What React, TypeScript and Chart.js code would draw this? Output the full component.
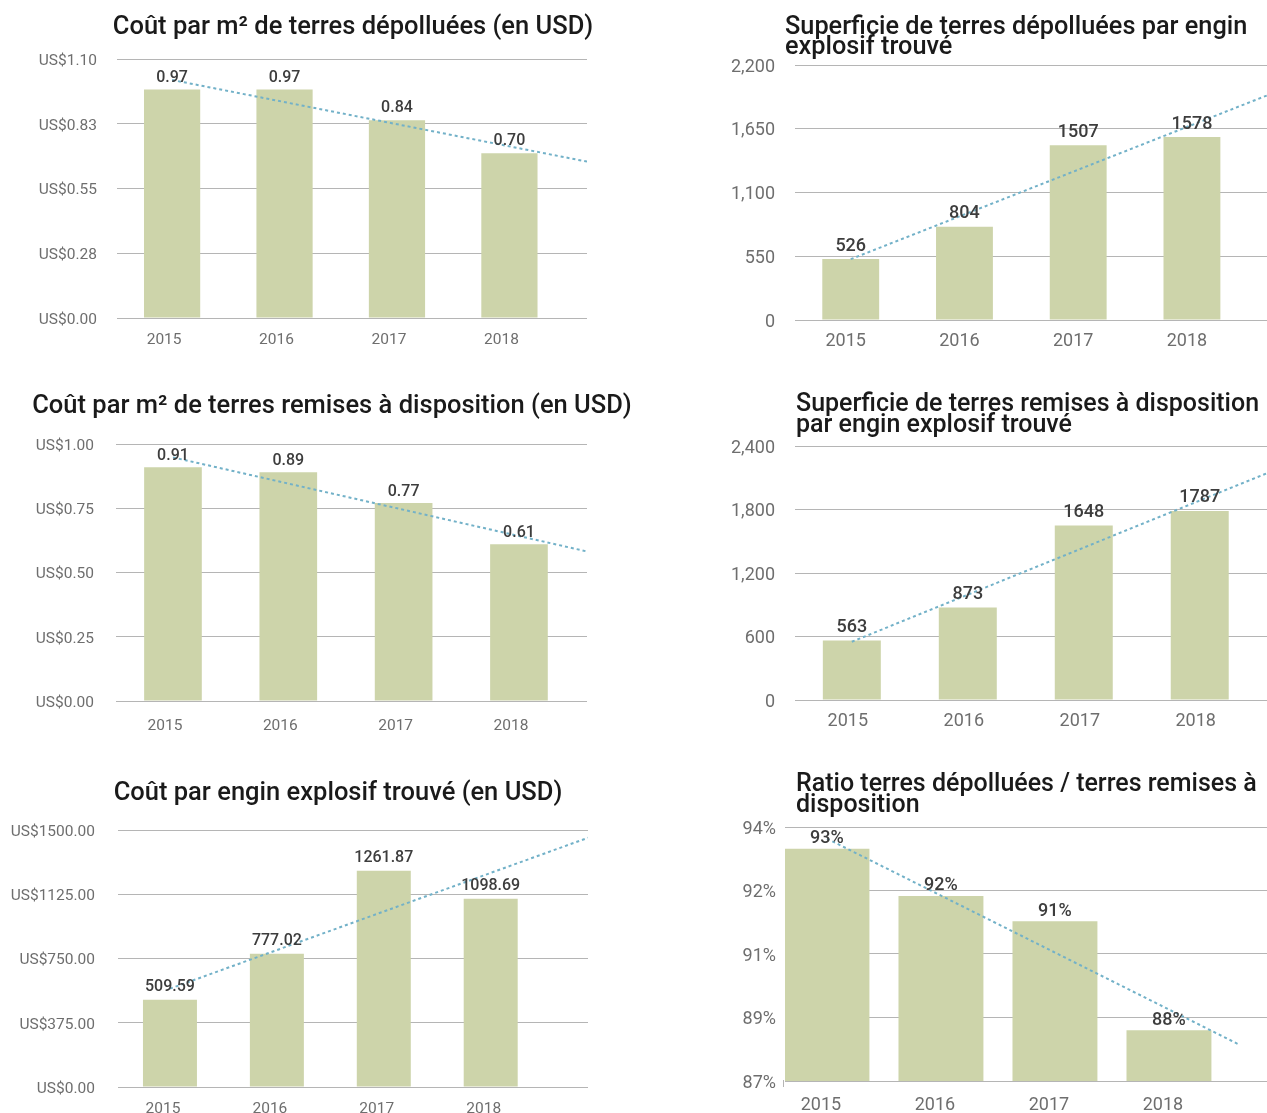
import { useEffect, useRef } from 'react';
import { Chart, registerables } from 'chart.js';

Chart.register(...registerables);

// ---- data -------------------------------------------------------------

const years = ['2015', '2016', '2017', '2018'];

// Coût par m² de terres dépolluées (USD)
const costPerM2Cleared = [0.97, 0.97, 0.84, 0.7];
const costPerM2ClearedTicks = [0, 0.275, 0.55, 0.825, 1.1];
const costPerM2ClearedTickLabels = ['US$0.00', 'US$0.28', 'US$0.55', 'US$0.83', 'US$1.10'];

// Superficie de terres dépolluées par engin explosif trouvé (m²)
const areaClearedPerItem = [526, 804, 1507, 1578];
const areaClearedTicks = [0, 550, 1100, 1650, 2200];
const areaClearedTickLabels = ['0', '550', '1,100', '1,650', '2,200'];

// Coût par m² de terres remises à disposition (USD)
const costPerM2Released = [0.91, 0.89, 0.77, 0.61];
const costPerM2ReleasedTicks = [0, 0.25, 0.5, 0.75, 1];
const costPerM2ReleasedTickLabels = ['US$0.00', 'US$0.25', 'US$0.50', 'US$0.75', 'US$1.00'];

// Superficie de terres remises à disposition par engin explosif trouvé (m²)
const areaReleasedPerItem = [563, 873, 1648, 1787];
const areaReleasedTicks = [0, 600, 1200, 1800, 2400];
const areaReleasedTickLabels = ['0', '600', '1,200', '1,800', '2,400'];

// Coût par engin explosif trouvé (USD)
const costPerItem = [509.59, 777.02, 1261.87, 1098.69];
const costPerItemTicks = [0, 375, 750, 1125, 1500];
const costPerItemTickLabels = ['US$0.00', 'US$375.00', 'US$750.00', 'US$1125.00', 'US$1500.00'];

// Ratio terres dépolluées / terres remises à disposition
const clearedReleasedRatio = [0.934, 0.921, 0.914, 0.884];
const ratioTicks = [0.87, 0.8875, 0.905, 0.9225, 0.94];
const ratioTickLabels = ['87%', '89%', '91%', '92%', '94%'];

// ---- styling ----------------------------------------------------------

const BAR_COLOR = '#cdd4aa';
const TREND_COLOR = '#72b1c8';
const GRID_COLOR = '#b5b5b5';
const TICK_COLOR = '#6e6e6e';
const VALUE_COLOR = '#3d3d3d';
const TITLE_COLOR = '#1a1a1a';
const FONT = 'Roboto, "Noto Sans", sans-serif';

type Panel = {
  key: string;
  title: string[];
  titleAlign: 'left' | 'center';
  titleX: number;
  titleY: number;
  titleSize: number;
  titleLead: number;
  values: number[];
  ticks: number[];
  tickLabels: string[];
  valueText: (v: number) => string;
  box: { left: number; top: number; width: number; height: number };
  area: { left: number; right: number; top: number; bottom: number };
  xMin: number;
  xMax: number;
  trendEnd: number;
  barPct: number;
  tickSize: number;
  valueSize: number;
  xLabelPad: number;
  yLabelPad: number;
  xLabelShift: number;
  valueGap: number;
  edgeTick?: boolean;
};

const fixed2 = (v: number) => v.toFixed(2);
const plain = (v: number) => String(v);
const percent = (v: number) => `${Math.round(v * 100)}%`;

const panels: Panel[] = [
  {
    key: 'cleared-cost',
    title: ['Coût par m² de terres dépolluées (en USD)'],
    titleAlign: 'center', titleX: 353, titleY: 28, titleSize: 25.5, titleLead: 20,
    values: costPerM2Cleared, ticks: costPerM2ClearedTicks, tickLabels: costPerM2ClearedTickLabels,
    valueText: fixed2,
    box: { left: 0, top: 0, width: 640, height: 370 },
    area: { left: 117, right: 587, top: 59, bottom: 318 },
    xMin: -0.49, xMax: 3.69, trendEnd: 3.69, barPct: 0.5,
    tickSize: 15.5, valueSize: 16, xLabelPad: 13, yLabelPad: 20, xLabelShift: -8, valueGap: 4,
  },
  {
    key: 'cleared-area',
    title: ['Superficie de terres dépolluées par engin', 'explosif trouvé'],
    titleAlign: 'left', titleX: 785, titleY: 28, titleSize: 25.3, titleLead: 20,
    values: areaClearedPerItem, ticks: areaClearedTicks, tickLabels: areaClearedTickLabels,
    valueText: plain,
    box: { left: 640, top: 0, width: 627, height: 370 },
    area: { left: 795, right: 1267, top: 65, bottom: 320 },
    xMin: -0.49, xMax: 3.66, trendEnd: 3.66, barPct: 0.5,
    tickSize: 18, valueSize: 18, xLabelPad: 11, yLabelPad: 20, xLabelShift: -5, valueGap: 4,
  },
  {
    key: 'released-cost',
    title: ['Coût par m² de terres remises à disposition (en USD)'],
    titleAlign: 'center', titleX: 332, titleY: 407, titleSize: 25.5, titleLead: 20,
    values: costPerM2Released, ticks: costPerM2ReleasedTicks, tickLabels: costPerM2ReleasedTickLabels,
    valueText: fixed2,
    box: { left: 0, top: 370, width: 640, height: 380 },
    area: { left: 116, right: 587, top: 444, bottom: 701 },
    xMin: -0.494, xMax: 3.59, trendEnd: 3.59, barPct: 0.5,
    tickSize: 15.5, valueSize: 16, xLabelPad: 16, yLabelPad: 22, xLabelShift: -8, valueGap: 3,
  },
  {
    key: 'released-area',
    title: ['Superficie de terres remises à disposition', 'par engin explosif trouvé'],
    titleAlign: 'left', titleX: 796, titleY: 405, titleSize: 25, titleLead: 21,
    values: areaReleasedPerItem, ticks: areaReleasedTicks, tickLabels: areaReleasedTickLabels,
    valueText: plain,
    box: { left: 640, top: 370, width: 627, height: 380 },
    area: { left: 795, right: 1267, top: 446, bottom: 700 },
    xMin: -0.49, xMax: 3.58, trendEnd: 3.58, barPct: 0.5,
    tickSize: 18, valueSize: 18, xLabelPad: 11, yLabelPad: 20, xLabelShift: -4, valueGap: 4,
  },
  {
    key: 'item-cost',
    title: ['Coût par engin explosif trouvé (en USD)'],
    titleAlign: 'center', titleX: 338, titleY: 794, titleSize: 25.5, titleLead: 20,
    values: costPerItem, ticks: costPerItemTicks, tickLabels: costPerItemTickLabels,
    valueText: fixed2,
    box: { left: 0, top: 750, width: 640, height: 380 },
    area: { left: 118, right: 588, top: 830, bottom: 1087 },
    xMin: -0.486, xMax: 3.91, trendEnd: 3.91, barPct: 0.505,
    tickSize: 15.5, valueSize: 16, xLabelPad: 13, yLabelPad: 23, xLabelShift: -7, valueGap: 5,
  },
  {
    key: 'ratio',
    title: ['Ratio terres dépolluées / terres remises à', 'disposition'],
    titleAlign: 'left', titleX: 796, titleY: 785, titleSize: 25, titleLead: 21,
    values: clearedReleasedRatio, ticks: ratioTicks, tickLabels: ratioTickLabels,
    valueText: percent,
    box: { left: 640, top: 750, width: 627, height: 380 },
    area: { left: 785, right: 1267, top: 827, bottom: 1081 },
    xMin: -0.368, xMax: 3.86, trendEnd: 3.61, barPct: 0.745,
    tickSize: 18, valueSize: 18, xLabelPad: 14, yLabelPad: 9, xLabelShift: -6, valueGap: 1,
    edgeTick: true,
  },
];

// Least-squares trend line over the yearly values, from the first year to xEnd.
function trendPoints(values: number[], xEnd: number) {
  const n = values.length;
  const mx = (n - 1) / 2;
  const my = values.reduce((a, b) => a + b, 0) / n;
  let sxy = 0;
  let sxx = 0;
  values.forEach((v, i) => {
    sxy += (i - mx) * (v - my);
    sxx += (i - mx) * (i - mx);
  });
  const slope = sxy / sxx;
  const at = (x: number) => my + slope * (x - mx);
  return [
    { x: 0, y: at(0) },
    { x: xEnd, y: at(xEnd) },
  ];
}

function buildChart(canvas: HTMLCanvasElement, p: Panel) {
  const { box, area } = p;
  const texts = p.values.map(p.valueText);

  const titlePlugin = {
    id: 'panelTitle',
    afterDraw(chart: Chart) {
      const ctx = chart.ctx;
      ctx.save();
      ctx.font = `500 ${p.titleSize}px ${FONT}`;
      ctx.fillStyle = TITLE_COLOR;
      ctx.textAlign = p.titleAlign;
      ctx.textBaseline = 'middle';
      p.title.forEach((line, i) => {
        ctx.fillText(line, p.titleX - box.left, p.titleY - box.top + i * p.titleLead);
      });
      ctx.restore();
    },
  };

  const valuePlugin = {
    id: 'valueLabels',
    afterDatasetsDraw(chart: Chart) {
      const meta = chart.getDatasetMeta(0);
      const ctx = chart.ctx;
      ctx.save();
      ctx.font = `500 ${p.valueSize}px ${FONT}`;
      ctx.fillStyle = VALUE_COLOR;
      ctx.textAlign = 'center';
      ctx.textBaseline = 'bottom';
      meta.data.forEach((el: any, i: number) => {
        ctx.fillText(texts[i], el.x, el.y - p.valueGap);
      });
      ctx.restore();
    },
  };

  // short vertical stub at the lower-left corner of the plot
  const stubPlugin = {
    id: 'edgeTick',
    afterDraw(chart: Chart) {
      if (!p.edgeTick) return;
      const { left, bottom } = chart.chartArea;
      const ctx = chart.ctx;
      ctx.save();
      ctx.strokeStyle = GRID_COLOR;
      ctx.lineWidth = 1;
      ctx.beginPath();
      ctx.moveTo(left - 1.5, bottom - 1);
      ctx.lineTo(left - 1.5, bottom + 6);
      ctx.stroke();
      ctx.restore();
    },
  };

  return new Chart(canvas, {
    type: 'bar',
    data: {
      datasets: [
        {
          type: 'bar',
          data: p.values.map((v, i) => ({ x: i, y: v })),
          backgroundColor: BAR_COLOR,
          borderWidth: 0,
          categoryPercentage: 1,
          barPercentage: p.barPct,
          order: 1,
        },
        {
          type: 'line',
          data: trendPoints(p.values, p.trendEnd),
          borderColor: TREND_COLOR,
          borderWidth: 2,
          borderDash: [3, 3],
          pointRadius: 0,
          fill: false,
          order: 0,
        },
      ] as any,
    },
    options: {
      animation: false,
      responsive: false,
      maintainAspectRatio: false,
      events: [],
      layout: {
        padding: {
          top: area.top - box.top,
          left: 0,
          right: Math.max(0, box.left + box.width - area.right),
          bottom: 0,
        },
      },
      plugins: {
        legend: { display: false },
        tooltip: { enabled: false },
        title: { display: false },
      },
      scales: {
        x: {
          type: 'linear',
          offset: false,
          min: p.xMin,
          max: p.xMax,
          grid: { display: false, drawTicks: false },
          border: { display: false },
          afterBuildTicks: (scale: any) => {
            scale.ticks = years.map((_, i) => ({ value: i }));
          },
          afterFit: (scale: any) => {
            scale.height = box.top + box.height - area.bottom;
          },
          ticks: {
            autoSkip: false,
            maxRotation: 0,
            padding: p.xLabelPad,
            labelOffset: p.xLabelShift,
            color: TICK_COLOR,
            font: { family: FONT, size: p.tickSize },
            callback: (_v: any, i: number) => years[i],
          },
        },
        y: {
          type: 'linear',
          min: p.ticks[0],
          max: p.ticks[p.ticks.length - 1],
          grid: { color: GRID_COLOR, lineWidth: 1, drawTicks: false },
          border: { display: false },
          afterBuildTicks: (scale: any) => {
            scale.ticks = p.ticks.map((v) => ({ value: v }));
          },
          afterFit: (scale: any) => {
            scale.width = area.left - box.left;
          },
          ticks: {
            padding: p.yLabelPad,
            labelOffset: 2,
            color: TICK_COLOR,
            font: { family: FONT, size: p.tickSize },
            callback: (_v: any, i: number) => p.tickLabels[i],
          },
        },
      },
    } as any,
    plugins: [titlePlugin, valuePlugin, stubPlugin],
  });
}

function PanelChart({ panel }: { panel: Panel }) {
  const ref = useRef<HTMLCanvasElement | null>(null);
  useEffect(() => {
    if (!ref.current) return;
    const chart = buildChart(ref.current, panel);
    return () => chart.destroy();
  }, [panel]);
  const { box } = panel;
  return (
    <canvas
      ref={ref}
      width={box.width}
      height={box.height}
      style={{
        position: 'absolute',
        left: box.left,
        top: box.top,
        width: box.width,
        height: box.height,
      }}
    />
  );
}

export default function App() {
  return (
    <div
      style={{
        position: 'fixed',
        left: 0,
        top: 0,
        width: 1267,
        height: 1113,
        overflow: 'hidden',
        background: '#ffffff',
      }}
    >
      {panels.map((p) => (
        <PanelChart key={p.key} panel={p} />
      ))}
    </div>
  );
}
